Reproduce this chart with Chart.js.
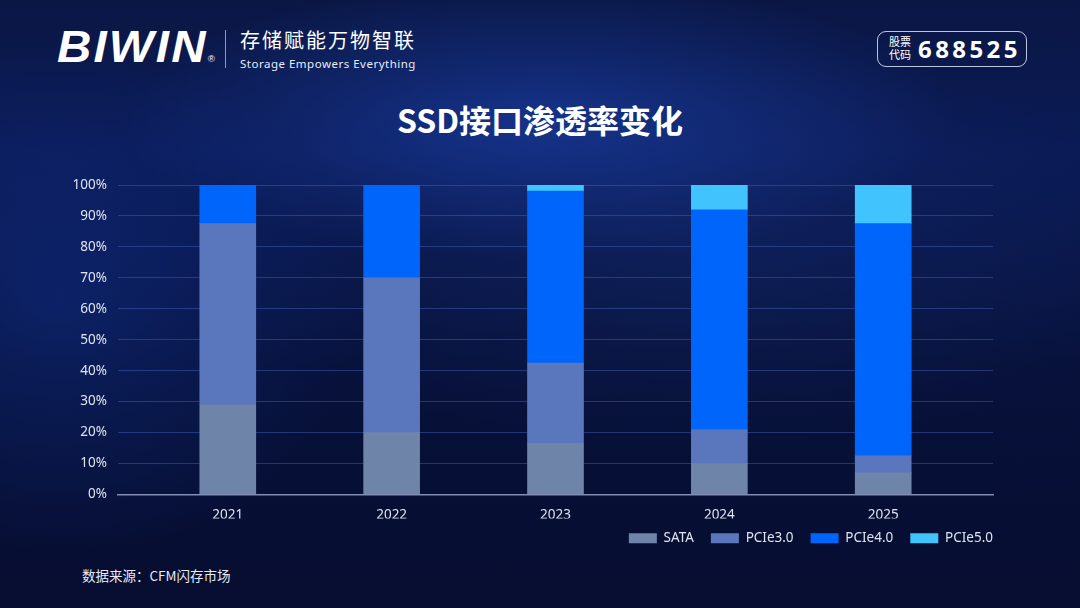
<!DOCTYPE html>
<html>
<head>
<meta charset="utf-8">
<script src="https://cdn.jsdelivr.net/npm/chart.js@4.4.1/dist/chart.umd.min.js"></script>
<style>
  html, body { margin: 0; padding: 0; }
  body {
    width: 1080px; height: 608px; overflow: hidden; position: relative;
    font-family: "Noto Sans CJK SC", "Noto Sans", sans-serif;
    background:
      radial-gradient(ellipse 420px 140px at 540px 120px, rgba(30, 70, 180, 0.55), rgba(30, 70, 180, 0) 100%),
      radial-gradient(ellipse 300px 260px at 60px 300px, rgba(20, 60, 170, 0.35), rgba(20, 60, 170, 0) 100%),
      radial-gradient(ellipse 500px 200px at 700px 250px, rgba(30, 60, 140, 0.25), rgba(30, 60, 140, 0) 100%),
      linear-gradient(180deg, #0a1745 0%, #0a1a55 25%, #07113a 60%, #060d30 100%);
    color: #fff;
  }
  .logo {
    position: absolute; left: 57px; top: 24px; transform-origin: left center; transform: scaleX(1.08);
    font-family: "Liberation Sans", Arial, sans-serif; font-weight: bold; font-style: italic;
    font-size: 44px; letter-spacing: 2px; line-height: 46px;
  }
  .logo sup { font-size: 9px; font-style: normal; font-weight: normal; vertical-align: 0; margin-left: 0px; }
  .divider { position: absolute; left: 225px; top: 30px; width: 1px; height: 38px; background: rgba(255,255,255,0.55); }
  .slogan { position: absolute; left: 240px; top: 27px; font-size: 20px; letter-spacing: 2px; line-height: 26px; }
  .slogan-en { position: absolute; left: 240px; top: 56px; font-size: 11.5px; letter-spacing: 0.5px; font-family: "Noto Sans", sans-serif; color: #e8ecf6; }
  .stock {
    position: absolute; left: 877px; top: 31px; width: 148px; height: 34px;
    border: 1.2px solid rgba(220,228,245,0.85); border-radius: 9px;
  }
  .stock .lab { position: absolute; left: 11px; top: 3px; font-size: 11px; line-height: 13px; }
  .stock .code { position: absolute; left: 40px; top: 0px; font-size: 24px; font-weight: bold; letter-spacing: 3.4px; line-height: 34px; font-family: "Noto Sans", sans-serif; }
  .title { position: absolute; left: 0; width: 1080px; top: 98px; text-align: center; font-size: 32px; font-weight: bold; line-height: 42px; }
  .source { position: absolute; left: 82px; top: 565px; font-size: 13.5px; color: #e6eaf4; }
  #wrap { position: absolute; left: 0; top: 0; width: 1080px; height: 608px; }
</style>
</head>
<body>
<div class="logo">BIWIN<sup>®</sup></div>
<div class="divider"></div>
<div class="slogan">存储赋能万物智联</div>
<div class="slogan-en">Storage Empowers Everything</div>
<div class="stock"><div class="lab">股票<br>代码</div><div class="code">688525</div></div>
<div class="title">SSD接口渗透率变化</div>
<div class="source">数据来源：CFM闪存市场</div>
<div id="wrap"><canvas id="chart"></canvas></div>
<script>
// values (percent share per year)
const years = ['2021', '2022', '2023', '2024', '2025'];
const sata = [29, 20, 16.5, 10, 7];
const pcie3 = [58.5, 50, 26, 11, 5.5];
const pcie4 = [12.5, 30, 55.5, 71, 75];
const pcie5 = [0, 0, 2, 8, 12.5];
const yTicks = [0, 10, 20, 30, 40, 50, 60, 70, 80, 90, 100];

const toPoints = arr => arr.map((v, i) => ({ x: i, y: v }));

const series = [
    { label: 'SATA', data: sata, color: '#6f84a9' },
    { label: 'PCIe3.0', data: pcie3, color: '#5a77bd' },
    { label: 'PCIe4.0', data: pcie4, color: '#0066fb' },
    { label: 'PCIe5.0', data: pcie5, color: '#41c4fd' }
];

const tickColor = '#dfe4f0';
const tickFont = { family: '"Noto Sans", sans-serif', size: 13.5 };

// nudge the legend row: flush right with the plot, a bit closer to the axis
const legendShift = {
    id: 'legendShift',
    afterLayout(chart) {
        const lg = chart.legend;
        if (!lg) return;
        lg.right += 17;
        lg.top -= 4;
        lg.bottom -= 4;
    }
};

new Chart(document.getElementById('chart'), {
    type: 'bar',
    data: {
        datasets: series.map(s => ({
            label: s.label,
            data: toPoints(s.data),
            backgroundColor: s.color,
            borderWidth: 0,
            barThickness: 56
        }))
    },
    options: {
        responsive: true,
        maintainAspectRatio: false,
        animation: false,
        layout: { padding: { top: 185, left: 50, right: 87, bottom: 49 } },
        plugins: {
            tooltip: { enabled: false },
            legend: {
                position: 'bottom',
                align: 'end',
                labels: {
                    color: tickColor,
                    font: tickFont,
                    boxWidth: 28,
                    boxHeight: 10,
                    padding: 17
                }
            }
        },
        scales: {
            x: {
                type: 'linear',
                stacked: true,
                offset: false,
                min: -0.67,
                max: 4.67,
                afterBuildTicks: scale => { scale.ticks = years.map((_, i) => ({ value: i })); },
                afterFit: scale => { scale.height = 24; },
                ticks: {
                    color: tickColor,
                    font: tickFont,
                    padding: 13,
                    callback: v => years[v]
                },
                grid: { display: false, drawTicks: false },
                border: { display: true, color: 'rgba(165, 175, 205, 0.75)', width: 1.5 }
            },
            y: {
                stacked: true,
                min: 0,
                max: 100,
                afterBuildTicks: scale => { scale.ticks = yTicks.map(v => ({ value: v })); },
                afterFit: scale => { scale.width = 68; },
                ticks: {
                    color: tickColor,
                    font: tickFont,
                    padding: 11,
                    callback: v => v + '%'
                },
                grid: { color: 'rgba(70, 100, 190, 0.45)', lineWidth: 1, drawTicks: false },
                border: { display: false }
            }
        }
    },
    plugins: [legendShift]
});
</script>
</body>
</html>
